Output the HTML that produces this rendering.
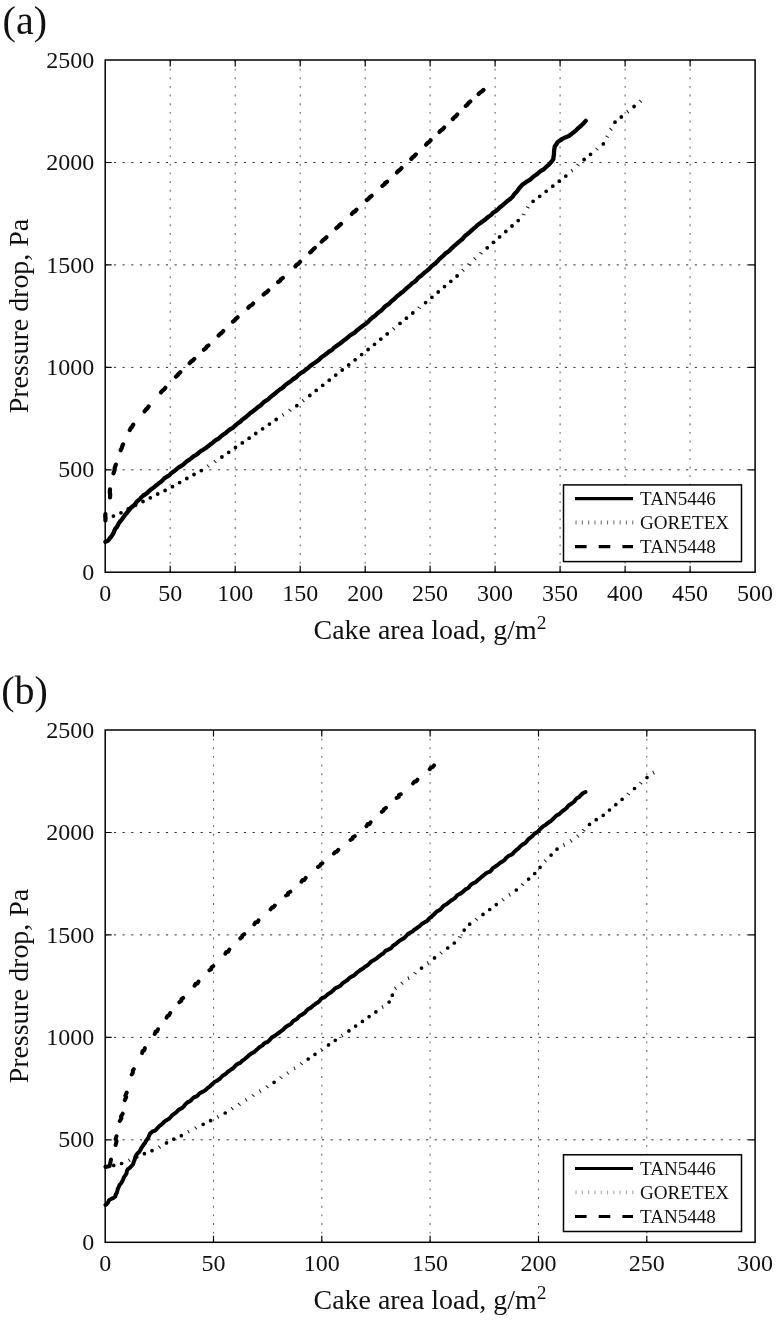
<!DOCTYPE html>
<html lang="en"><head><meta charset="utf-8"><title>Pressure drop vs cake area load</title>
<style>
html,body{margin:0;padding:0;background:#fff}
svg{display:block}
text{font-family:"Liberation Serif","DejaVu Serif",serif;fill:#111}
.tl{font-size:24px}
.at{font-size:27.9px}
.pl{font-size:40px}
.lt{font-size:19.1px}
.gv{stroke:#6a6a6a;stroke-width:1.1;stroke-dasharray:1.9 6.75}
.gh{stroke:#333;stroke-width:1;stroke-dasharray:2.2 6.47}
.tk{stroke:#000;stroke-width:1.2;fill:none}
.bx{stroke:#000;stroke-width:1.5;fill:none}
.lb{stroke:#000;stroke-width:1.5;fill:#fff}
.so{stroke:#000;fill:none;stroke-linejoin:round;stroke-linecap:round}
.do{stroke:#000;fill:none;stroke-linecap:round}
.th{stroke:#222;stroke-width:1.1;fill:none}
.da{stroke:#000;fill:none;stroke-linejoin:round;stroke-linecap:round}
.ld{stroke-width:3.8;stroke-dasharray:1.1 5.2}
</style></head>
<body>
<svg width="777" height="1320" viewBox="0 0 777 1320">
<rect width="777" height="1320" fill="#fff"/>
<g><line x1="170.2" y1="60" x2="170.2" y2="572.2" class="gv"/><line x1="235.2" y1="60" x2="235.2" y2="572.2" class="gv"/><line x1="300.2" y1="60" x2="300.2" y2="572.2" class="gv"/><line x1="365.2" y1="60" x2="365.2" y2="572.2" class="gv"/><line x1="430.1" y1="60" x2="430.1" y2="572.2" class="gv"/><line x1="495.1" y1="60" x2="495.1" y2="572.2" class="gv"/><line x1="560.1" y1="60" x2="560.1" y2="572.2" class="gv"/><line x1="625.1" y1="60" x2="625.1" y2="572.2" class="gv"/><line x1="690.1" y1="60" x2="690.1" y2="572.2" class="gv"/><line x1="105.2" y1="469.8" x2="755.1" y2="469.8" class="gh"/><line x1="105.2" y1="367.4" x2="755.1" y2="367.4" class="gh"/><line x1="105.2" y1="264.9" x2="755.1" y2="264.9" class="gh"/><line x1="105.2" y1="162.5" x2="755.1" y2="162.5" class="gh"/></g>
<path d="M170.2 572.2v-6.5M170.2 60v6.5M235.2 572.2v-6.5M235.2 60v6.5M300.2 572.2v-6.5M300.2 60v6.5M365.2 572.2v-6.5M365.2 60v6.5M430.1 572.2v-6.5M430.1 60v6.5M495.1 572.2v-6.5M495.1 60v6.5M560.1 572.2v-6.5M560.1 60v6.5M625.1 572.2v-6.5M625.1 60v6.5M690.1 572.2v-6.5M690.1 60v6.5M105.2 469.8h6.5M755.1 469.8h-6.5M105.2 367.4h6.5M755.1 367.4h-6.5M105.2 264.9h6.5M755.1 264.9h-6.5M105.2 162.5h6.5M755.1 162.5h-6.5" class="tk"/>
<polyline points="105.4,541.9 108.1,540.6 109.7,538.4 111.4,536.4 112.6,534.6 113.6,532.7 114.3,530.7 115.3,528.8 116.9,527 118,524.9 119.1,522.8 120.6,521 122,519.2 123.4,517.3 124.7,515.3 126.3,513.5 127.8,511.7 129.3,509.8 130.8,507.9 132.5,506.5 134.2,505.1 135.6,503.4 136.9,501.6 138.6,500.2 140.2,498.7 141.6,497 143.3,495.5 145.3,494.4 147.1,493 148.8,491.4 150.4,489.9 152.2,488.5 154.1,487.3 155.7,485.8 157.5,484.4 159.2,483 161,481.8 162.6,480.2 164.1,478.6 165.9,477.3 167.8,476.2 169.7,474.9 171.1,473.4 172.8,472.1 174.5,470.9 176.1,469.6 177.7,468.2 179.4,467 181.2,466 182.9,464.8 184.5,463.4 186,462 187.7,460.8 189.5,459.6 191.1,458.4 192.7,457 194.4,455.8 196.3,454.8 198,453.6 199.5,452.1 201.1,450.8 203,449.8 204.7,448.7 206.5,447.5 208.1,446.2 209.7,445 211.3,443.8 212.9,442.6 214.5,441.2 216,439.9 217.9,439.1 219.5,437.8 220.9,436.4 222.5,435.1 224.2,434 225.8,432.9 227.3,431.4 228.9,430.3 230.5,429 232.4,428.1 233.9,426.8 235.4,425.4 236.9,424.1 238.5,422.8 240.3,421.7 241.7,420.2 243.3,418.9 245,417.8 246.6,416.5 248.1,415.1 249.6,413.7 251.2,412.4 252.9,411.2 254.5,410 256.2,408.8 257.6,407.3 259.4,406.2 261,405 262.4,403.5 263.9,402.1 265.6,400.9 267.4,399.9 269,398.6 270.5,397.1 272,395.7 273.7,394.6 275.2,393.3 276.8,391.9 278.4,390.6 280,389.4 281.8,388.3 283.5,387 284.9,385.4 286.6,384.1 288.3,382.9 290,381.8 291.7,380.4 293.3,379 295.1,378 296.8,376.7 298.2,375.1 299.9,373.8 301.6,372.7 303.4,371.7 304.9,370.4 306.5,369.1 308.1,367.8 309.6,366.5 311.2,365.3 312.9,364 314.5,362.9 316.2,361.7 317.9,360.6 319.5,359.3 320.9,357.8 322.5,356.6 324.2,355.4 325.8,354.2 327.4,353 329,351.7 330.8,350.6 332.5,349.5 333.8,347.9 335.4,346.7 337.1,345.5 338.8,344.4 340.4,343.2 342,342 343.6,340.6 345.2,339.4 346.9,338.2 348.4,336.9 349.9,335.5 351.6,334.4 353.4,333.4 355.1,332.2 356.5,330.7 358.1,329.5 359.7,328.2 361.3,327 362.9,325.8 364.6,324.6 366.2,323.3 367.8,322.1 369.2,320.6 370.7,319.1 372.2,317.7 373.9,316.7 375.5,315.4 376.9,313.8 378.5,312.5 380.2,311.4 381.7,310.1 383.1,308.6 384.5,307 386.1,305.7 387.8,304.6 389.5,303.4 390.8,301.9 392.4,300.5 394,299.3 395.5,297.9 396.9,296.4 398.5,295.1 400.1,293.8 401.8,292.6 403.4,291.4 404.8,289.9 406.3,288.5 407.9,287.2 409.5,285.9 411,284.5 412.4,283.1 414.2,282 415.8,280.8 417.2,279.2 418.5,277.7 420.1,276.4 421.8,275.2 423.3,273.8 424.8,272.4 426.4,271.2 428,269.9 429.6,268.6 430.8,266.9 432.4,265.6 434,264.3 435.7,263.1 437.2,261.6 438.5,260.1 440,258.6 441.5,257.2 443.1,255.9 444.5,254.3 446.1,253 447.9,251.9 449.5,250.6 450.9,249 452.4,247.6 453.9,246.2 455.5,244.9 457,243.5 458.6,242.2 460.2,240.8 461.9,239.6 463.3,238 464.6,236.4 466.2,234.9 467.9,233.7 469.5,232.3 471.1,230.9 472.6,229.5 474.2,228.1 475.8,226.9 477.2,225.4 478.8,224.1 480.5,223 482.1,221.8 483.8,220.6 485.3,219.3 486.9,218 488.5,216.8 490.1,215.6 491.7,214.3 493.1,212.8 494.8,211.7 496.6,210.5 498.2,209.1 499.6,207.5 501.3,206.2 503,205 504.6,203.5 506.2,202.1 507.8,200.7 509.5,199.5 511.2,198.1 512.7,196.5 513.8,194.8 515.2,193.2 516.7,191.7 518,190 519.2,188.2 520.6,186.7 522,185.1 524.8,183.1 526.3,181.8 528.1,180.8 529.8,179.8 531.4,178.5 532.9,177.1 534.5,175.8 536.2,174.7 537.8,173.5 539.3,172.1 540.9,170.9 542.7,169.9 544.4,168.7 545.8,167.3 547.3,165.9 548.9,164.7 550.4,162.9 551.9,161.1 553.3,159.2 553.5,157.1 553.9,154.9 554,152.8 554.1,150.7 554.4,148.5 554.8,146.4 556.3,144.4 557.5,142.2 559.6,140.8 561.7,139.4 563.4,138.3 565.2,137.4 567,136.7 568.9,136 570.8,134.6 572.6,133 574.5,131.7 576.4,130 578.1,128.2 580.1,126.6 582,124.8 583.9,122.9 585.7,120.9" class="so" stroke-width="4.3"/>
<path d="M105.4 518h0.01M113.4 516.1h0.01M121 512.8h0.01M128.2 508.9h0.01M135.6 505.2h0.01M143 501.5h0.01M150.3 497.8h0.01M157.7 494h0.01M165.1 490.5h0.01M172.5 486.7h0.01M179.6 482.6h0.01M186.8 478.5h0.01M194 474.5h0.01M201.3 470.6h0.01M221.9 457h0.01M228.7 452.3h0.01M235.5 447.5h0.01M242.3 442.9h0.01M249.1 438.2h0.01M255.8 433.5h0.01M262.6 428.8h0.01M269.4 424.1h0.01M276.2 419.5h0.01M296.8 405.7h0.01M309.8 395.5h0.01M316.2 390.4h0.01M322.7 385.3h0.01M329.2 380.2h0.01M335.7 375.1h0.01M342.2 370h0.01M348.7 364.9h0.01M355.1 359.8h0.01M361.6 354.6h0.01M368.1 349.5h0.01M374.5 344.3h0.01M380.8 339.1h0.01M387.2 333.9h0.01M400 323.4h0.01M406.4 318.2h0.01M412.8 313h0.01M425.6 302.6h0.01M431.9 297.3h0.01M438.2 292h0.01M444.5 286.6h0.01M450.8 281.3h0.01M457.1 276h0.01M487.2 247.8h0.01M493.4 242.3h0.01M499.6 236.9h0.01M505.8 231.5h0.01M512 226h0.01M518.2 220.6h0.01M533.1 201.3h0.01M539.7 196.3h0.01M546.2 191.3h0.01M552.8 186.2h0.01M559.3 181.2h0.01M565.8 176.1h0.01M584.1 159.5h0.01M590.5 154.3h0.01M603.3 143.9h0.01M615 122.2h0.01M621.3 117h0.01M634.1 106.5h0.01" class="do" stroke-width="3.8"/>
<path d="M206.9 464.6L209.4 467.5M213.7 460.2L216.4 462.8M282.2 413.2L284 416.5M288.5 409L291.4 411.5M302.1 399.1L304.4 402.1M392.3 327.3L395 330M417.7 306.7L420.8 308.9M461.7 268.9L464.4 271.6M467.3 263.6L470.6 265.4M473.5 257.4L476.3 260.1M479.4 252.2L482.6 254.2M521.8 214L525.5 215M526.1 206.5L529.5 208.2M571 169.1L573 172.3M576.5 164L579.6 166.1M595.5 147.8L598.4 150.3M605.6 135.7L608.8 137.6M609.5 128L612.3 130.6M626.6 110.2L628.9 113.3M639.2 99.9L641.8 102.7" class="th"/>
<path d="M105.4 520.5L105.6 517.7L105.2 516.2L105.4 514M110 497.3L110.2 494.2L109.8 492.7L110 489.4M113.5 473.3L114.7 469.7L114.6 468.3L115.8 464.6M120.7 450.2L121.7 448.1L122.2 446.2L123.1 444.4M129.8 430L130.9 428L132.1 426.8L133.2 424.7M144.6 411.3L146.2 409.2L147 408.8L148.6 406.5M161 392.4L162.3 390.8L163.5 390L165.3 387.8M175.9 376.7L177.7 375.1L178.4 374L180.3 372.2M189.7 363.2L191.3 361.4L192.8 360.5L194.3 358.9M203.9 349.7L205.7 348.3L206.6 346.8L208.5 345.4M218.6 335.5L220.1 333.9L221.4 333.1L223.2 331.1M233 321.6L234.9 320.1L235.5 319.1L237.6 317.3M248.3 307.7L249.9 306L251.8 305L253.1 303.6M263.6 294.6L265.6 292.7L266.4 292.5L268.4 290.6M278.2 282.1L280.1 280.8L280.7 279.5L282.9 277.9M295.4 266.3L296.8 264.6L298.2 264L300 261.9M310.2 252.3L311.9 250.9L313.3 249.3L314.8 248M321.7 241.6L323.1 240.1L324.4 239.3L326.4 237.3M336.3 228.2L338.2 226.7L339.1 225.5L341 224M351.9 213.9L353.6 212L354.9 211.5L356.5 209.7M366.9 200L368.7 198.6L369.5 197.5L371.6 195.8M382.4 185.9L384.6 184.2L385.2 183L387.1 181.7M397 172.4L398.5 170.8L400.2 169.6L401.5 168.1M411.3 158.8L412.6 157.3L414.1 156.2L415.8 154.4M426.1 144.6L427.5 143L428.9 142.2L430.6 140.3M439.5 131.9L440.9 130.4L442.6 129.3L444.1 127.6M452.8 119L454.3 117.3L455.7 116.4L457.2 114.5M465.8 105.9L467.4 104.7L468.4 103.1L470.3 101.5M478.6 94L480.1 92.5L481.8 91.5L483.5 89.9" class="da" stroke-width="4.2"/>
<rect x="105.2" y="60" width="649.9" height="512.2" class="bx"/>
<text x="105.2" y="600.5" class="tl" text-anchor="middle">0</text>
<text x="170.2" y="600.5" class="tl" text-anchor="middle">50</text>
<text x="235.2" y="600.5" class="tl" text-anchor="middle">100</text>
<text x="300.2" y="600.5" class="tl" text-anchor="middle">150</text>
<text x="365.2" y="600.5" class="tl" text-anchor="middle">200</text>
<text x="430.1" y="600.5" class="tl" text-anchor="middle">250</text>
<text x="495.1" y="600.5" class="tl" text-anchor="middle">300</text>
<text x="560.1" y="600.5" class="tl" text-anchor="middle">350</text>
<text x="625.1" y="600.5" class="tl" text-anchor="middle">400</text>
<text x="690.1" y="600.5" class="tl" text-anchor="middle">450</text>
<text x="755.1" y="600.5" class="tl" text-anchor="middle">500</text>
<text x="94.3" y="579.9" class="tl" text-anchor="end">0</text>
<text x="94.3" y="477.4" class="tl" text-anchor="end">500</text>
<text x="94.3" y="375" class="tl" text-anchor="end">1000</text>
<text x="94.3" y="272.5" class="tl" text-anchor="end">1500</text>
<text x="94.3" y="170.1" class="tl" text-anchor="end">2000</text>
<text x="94.3" y="67.6" class="tl" text-anchor="end">2500</text>
<text x="430" y="638.5" class="at" text-anchor="middle">Cake area load, g/m<tspan dy="-10" font-size="19.5">2</tspan></text>
<text transform="translate(28 316.1) rotate(-90)" class="at" text-anchor="middle">Pressure drop, Pa</text>
<text x="2.6" y="33.5" class="pl">(a)</text>
<rect x="563.5" y="484.9" width="178" height="76.7" class="lb"/>
<line x1="575" y1="498.6" x2="633" y2="498.6" stroke="#000" stroke-width="3.4"/>
<line x1="575.5" y1="522.5" x2="634" y2="522.5" class="ld" stroke="#777"/>
<line x1="575" y1="546.6" x2="633" y2="546.6" stroke="#000" stroke-width="3.4" stroke-dasharray="11.6 12.1"/>
<text x="640" y="504.7" class="lt">TAN5446</text>
<text x="640" y="529" class="lt">GORETEX</text>
<text x="640" y="552.9" class="lt">TAN5448</text>
<g><line x1="213.5" y1="730" x2="213.5" y2="1242.3" class="gv"/><line x1="321.8" y1="730" x2="321.8" y2="1242.3" class="gv"/><line x1="430.1" y1="730" x2="430.1" y2="1242.3" class="gv"/><line x1="538.5" y1="730" x2="538.5" y2="1242.3" class="gv"/><line x1="646.8" y1="730" x2="646.8" y2="1242.3" class="gv"/><line x1="105.2" y1="1139.8" x2="755.1" y2="1139.8" class="gh"/><line x1="105.2" y1="1037.4" x2="755.1" y2="1037.4" class="gh"/><line x1="105.2" y1="934.9" x2="755.1" y2="934.9" class="gh"/><line x1="105.2" y1="832.5" x2="755.1" y2="832.5" class="gh"/></g>
<path d="M213.5 1242.3v-6.5M213.5 730v6.5M321.8 1242.3v-6.5M321.8 730v6.5M430.1 1242.3v-6.5M430.1 730v6.5M538.5 1242.3v-6.5M538.5 730v6.5M646.8 1242.3v-6.5M646.8 730v6.5M105.2 1139.8h6.5M755.1 1139.8h-6.5M105.2 1037.4h6.5M755.1 1037.4h-6.5M105.2 934.9h6.5M755.1 934.9h-6.5M105.2 832.5h6.5M755.1 832.5h-6.5" class="tk"/>
<polyline points="105.5,1205 106.4,1204.5 108,1202.5 109,1200.2 111.2,1198.9 113.4,1198 115.3,1196.5 115.7,1194.6 116.8,1192.8 117.4,1190.8 117.8,1188.8 118.8,1186.8 119.6,1184.8 121.2,1183.1 122.3,1181.2 123.2,1179.2 124,1177.1 125.3,1175.4 126.5,1173.5 126.8,1171.4 127.6,1169.4 129.8,1167.9 131.5,1166 133.2,1164.1 133.8,1161.7 134.7,1159.5 135.3,1157.1 136.3,1154.9 137.7,1153.2 139.4,1151.7 140.5,1149.8 141.5,1147.7 142.7,1146.1 143.8,1144.4 145.2,1142.8 145.9,1140.9 147.2,1139.3 148.4,1137.7 149.1,1135.7 149.9,1133.8 152.2,1131.7 155.1,1130.6 156.5,1129.1 157.9,1127.6 159.3,1126.1 161,1124.9 162.5,1123.6 163.9,1122.1 165.5,1120.8 167.3,1119.7 169.1,1118.8 170.5,1117.2 171.9,1115.6 173.5,1114.2 175.3,1113.1 176.9,1111.7 178.3,1110.1 180.2,1109 182.1,1107.9 183.7,1106.5 184.9,1104.8 186.3,1103.4 187.9,1102.2 189.8,1101.4 191.3,1100 192.6,1098.5 194.3,1097.2 196.4,1096.5 198.1,1095.2 199.4,1093.4 201.3,1092.4 203.2,1091.5 205,1090.4 206.6,1089 208.2,1087.6 210,1086.3 211.5,1084.7 213.2,1083.3 214.6,1081.8 216.6,1081 218.2,1079.9 219.9,1078.8 221.2,1077.3 222.6,1075.7 224.4,1074.8 226,1073.6 227.4,1072.2 229.1,1071 230.6,1069.8 232.4,1068.7 233.9,1067.4 235.3,1065.9 236.7,1064.5 238.5,1063.5 240.4,1062.8 241.8,1061.2 243.4,1060 245,1058.8 246.5,1057.5 248,1056.2 249.5,1054.8 251.1,1053.6 253,1052.7 254.7,1051.6 256.1,1050.2 257.6,1048.9 259.1,1047.5 260.8,1046.4 262.4,1045.3 263.8,1043.8 265.5,1042.7 267.5,1042 269,1040.7 270.4,1039.2 271.7,1037.5 273.4,1036.5 275.3,1035.6 276.8,1034.3 278.4,1033.1 280,1032 281.6,1030.7 283.3,1029.6 284.6,1028 286.1,1026.7 287.8,1025.6 289.7,1024.7 291.3,1023.5 292.5,1021.8 294,1020.5 295.8,1019.6 297.5,1018.4 298.7,1016.8 300.3,1015.5 302.1,1014.6 303.8,1013.5 305.3,1012.2 306.6,1010.6 308.1,1009.3 309.9,1008.3 311.5,1007.1 313,1005.7 314.6,1004.6 316.2,1003.3 318,1002.4 319.5,1001 320.7,999.3 322.2,998 324.2,997.3 325.8,996.1 327.4,994.7 329,993.5 330.8,992.5 332.3,991.1 333.8,989.7 335.3,988.3 337.2,987.4 339,986.4 340.8,985.4 342.1,983.7 343.6,982.4 345.4,981.4 347.1,980.3 348.6,978.8 350.1,977.4 351.9,976.4 353.8,975.6 355.3,974.2 356.8,972.8 358.4,971.5 360,970.3 361.7,969.2 363.4,968.1 365,966.8 366.8,965.8 368.4,964.5 369.8,963 371.3,961.5 373.1,960.5 374.8,959.5 376.6,958.4 378.1,957.1 379.7,955.8 381.4,954.6 383.2,953.6 384.5,951.9 386,950.5 388,949.8 389.9,948.8 391.6,947.6 392.9,945.9 394.6,944.7 396.3,943.6 397.8,942.1 399.5,940.9 401.2,939.7 403,938.7 404.7,937.6 406.1,936 407.6,934.4 409.2,933.2 411,932.2 412.9,931.2 414.3,929.7 416.2,928.6 417.8,927.3 419.6,926.3 421,924.7 422.5,923.4 424.4,922.4 426.3,921.5 427.8,920.1 429.2,918.4 430.9,917.3 432.3,915.8 433.8,914.5 435.3,913 436.8,911.6 438.6,910.6 440.4,909.5 441.7,908 443,906.4 444.6,905.2 446.5,904.3 448,903 449.6,901.7 451.1,900.4 452.9,899.4 454.6,898.4 456,896.9 457.2,895.2 459.1,894.3 460.9,893.4 462.5,892.2 464,890.8 465.4,889.3 467.3,888.5 468.9,887.3 470.1,885.5 471.6,884.2 473.4,883.2 475.3,882.4 476.9,881.2 478.3,879.7 479.9,878.5 481.4,877.1 483,875.9 484.5,874.5 486.1,873.3 487.9,872.3 490,871.6 491.4,870.1 492.6,868.3 494.4,867.1 496.1,866 497.8,864.8 499.4,863.4 501.1,862.3 502.9,861.3 504.5,860 505.9,858.3 507.4,856.9 509.1,855.7 511.1,854.9 512.8,853.7 514.1,852.1 515.6,850.6 517.2,849.4 518.8,848 520.1,846.5 521.7,845.2 523.4,844 525.3,843 526.6,841.4 527.9,839.7 529.4,838.3 531.1,837.1 532.7,835.8 534,834.2 535.7,833 537.5,831.9 539,830.5 540.4,828.9 541.9,827.4 543.6,826 545.5,825 547.1,823.6 548.8,822.3 550.6,821.2 552.2,819.8 553.8,818.3 555.2,816.7 556.8,815.3 558.8,814.4 560.4,813 562,811.6 563.6,810.2 565.3,809.1 566.8,807.7 568.1,806.1 569.6,804.8 571.4,803.7 573,802.5 574.6,801.2 575.7,799.4 577.2,798 579.1,797.1 580.5,795.5 581.9,794.1 583.5,792.8 585.5,792" class="so" stroke-width="4.0"/>
<path d="M105.5 1166.5h0.01M113.7 1165.4h0.01M121.6 1163.5h0.01M136.7 1156.9h0.01M144.4 1153.7h0.01M152 1150.7h0.01M166.5 1142.9h0.01M173.8 1139.1h0.01M181.3 1135.7h0.01M203.2 1124.3h0.01M210.6 1120.7h0.01M225.2 1113h0.01M274.1 1082.3h0.01M308.2 1059h0.01M315 1054.3h0.01M328.5 1044.9h0.01M335.3 1040.3h0.01M348.9 1030.9h0.01M355.6 1026.1h0.01M362.4 1021.4h0.01M369.1 1016.6h0.01M375.9 1011.9h0.01M389.1 1002h0.01M392.3 995.2h0.01M421.5 968.1h0.01M434.5 957.9h0.01M447.7 948h0.01M454.3 943h0.01M464.2 930.1h0.01M469.7 924.2h0.01M483 914.4h0.01M489.7 909.5h0.01M496.3 904.6h0.01M516.3 890h0.01M528.6 879.1h0.01M534.7 873.5h0.01M540.1 867.3h0.01M551.1 855.1h0.01M557 849.2h0.01M589.5 824.4h0.01M596.2 819.7h0.01M603.2 815.3h0.01M609.5 810h0.01M615.8 804.7h0.01M622.1 799.3h0.01M634.5 788.5h0.01M647 777.6h0.01" class="do" stroke-width="3.7"/>
<path d="M128.3 1158.8L130.3 1162M158.3 1145.7L160.7 1148.6M187.6 1129.9L189.3 1133.3M194.6 1126.5L197 1129.4M217.1 1115.2L218.8 1118.6M231.1 1107.2L233.4 1110.2M237.8 1103L240.7 1105.6M245.2 1098.3L247.2 1101.5M251.8 1094.3L254.6 1096.7M259.1 1089.5L261.2 1092.7M265.7 1085.4L268.5 1088M279.5 1076.4L282.4 1078.9M286.6 1071.5L288.9 1074.5M293.8 1066.6L295.3 1070.1M299.9 1062.4L302.8 1064.9M320.4 1048.3L323.1 1051M341.2 1033.9L343.1 1037.2M381.9 1005.3L383.3 1008.8M394.4 986.8L396.6 989.9M400.7 981.9L403.3 984.7M407.8 976.5L409.2 980M413.5 972.1L416.6 974.3M427.1 961.2L428.8 964.7M439.7 951.6L442.4 954.3M458 936.4L461.6 937.7M474.9 918.1L477.8 920.5M501.7 898.4L504.3 901.1M508.8 893.1L510.4 896.6M521 883.5L524.1 885.8M544 859.5L546.6 862.3M563.2 843.2L564.8 846.7M570 839.2L572.2 842.4M576.5 834.7L579.1 837.5M582 829.3L585.3 831.2M626.7 792.9L629.9 795M639.3 781.9L642.3 784.2M652.7 771.1L654.5 774.5" class="th"/>
<path d="M115.6 1145L116.6 1141.3L115.6 1139.1L116.5 1136.2M119.8 1121.1L121.4 1118.4L121 1116.6L122.7 1113.7M124.8 1100.1L126.2 1097.1L125.3 1095.7L126.7 1092.6M131.8 1074.5L132.9 1072.6L132.8 1070.7L133.8 1069.2M142.1 1053.1L142.6 1051L144.3 1050.3L144.9 1048.1M154.7 1033.9L155.6 1031.6L157 1031.6L158 1029.2M166.6 1017.6L167.5 1015.8L168.9 1015.4L170.2 1013.1M179.4 1002.2L181.3 1000.8L181.3 999.4L183.2 997.9M194.6 985.7L195.6 983.8L197.5 983.5L198.5 981.6M209.4 970.3L211.2 969.3L211.5 967.4L213.3 966.2M225.4 953.7L226.3 951.9L228.1 951.7L229.3 949.6M240.3 938.3L242.1 936.9L242.3 935.7L244.3 934.2M254.4 924.3L255.4 922.4L257.7 922L258.5 920.4M270.6 909.3L272.2 907.3L273.2 907.5L274.8 905.5M286 895.5L288 894.7L288 892.9L290.3 891.7M301.5 881.7L302.5 879.9L304.3 880L305.7 877.9M318 867L319.8 865.9L320.8 864.2L322.4 863.3M333.9 853.5L335.1 852.1L336.7 851.8L338.3 849.9M350.4 839.9L352.4 838.8L352.9 837.3L354.8 836.2M366.4 826.2L367.7 824.1L369.4 824.3L370.6 822.3M381.8 811.9L383.5 810.7L383.9 809.3L385.9 807.9M396.6 798L398.9 796.7L398.8 795L400.8 794.2M413.1 783.4L414.4 781.7L416.3 781.2L417.4 779.7M429.7 769.2L430.8 767.7L432.6 767.1L434 765.4M105.6 1167L109.6 1166L111 1159.6" class="da" stroke-width="4.0"/>
<rect x="105.2" y="730" width="649.9" height="512.3" class="bx"/>
<text x="105.2" y="1270.5" class="tl" text-anchor="middle">0</text>
<text x="213.5" y="1270.5" class="tl" text-anchor="middle">50</text>
<text x="321.8" y="1270.5" class="tl" text-anchor="middle">100</text>
<text x="430.1" y="1270.5" class="tl" text-anchor="middle">150</text>
<text x="538.5" y="1270.5" class="tl" text-anchor="middle">200</text>
<text x="646.8" y="1270.5" class="tl" text-anchor="middle">250</text>
<text x="755.1" y="1270.5" class="tl" text-anchor="middle">300</text>
<text x="94.3" y="1249.9" class="tl" text-anchor="end">0</text>
<text x="94.3" y="1147.4" class="tl" text-anchor="end">500</text>
<text x="94.3" y="1045" class="tl" text-anchor="end">1000</text>
<text x="94.3" y="942.5" class="tl" text-anchor="end">1500</text>
<text x="94.3" y="840.1" class="tl" text-anchor="end">2000</text>
<text x="94.3" y="737.6" class="tl" text-anchor="end">2500</text>
<text x="430" y="1308.5" class="at" text-anchor="middle">Cake area load, g/m<tspan dy="-10" font-size="19.5">2</tspan></text>
<text transform="translate(28 986.1) rotate(-90)" class="at" text-anchor="middle">Pressure drop, Pa</text>
<text x="1.3" y="703.5" class="pl">(b)</text>
<rect x="563.5" y="1154.8" width="178" height="76.7" class="lb"/>
<line x1="575" y1="1168.5" x2="633" y2="1168.5" stroke="#000" stroke-width="2.8"/>
<line x1="575.5" y1="1192.4" x2="634" y2="1192.4" class="ld" stroke="#a8a8a8"/>
<line x1="575" y1="1216.5" x2="633" y2="1216.5" stroke="#000" stroke-width="2.8" stroke-dasharray="11.6 12.1"/>
<text x="640" y="1174.6" class="lt">TAN5446</text>
<text x="640" y="1198.9" class="lt">GORETEX</text>
<text x="640" y="1222.8" class="lt">TAN5448</text>
</svg>
</body></html>
